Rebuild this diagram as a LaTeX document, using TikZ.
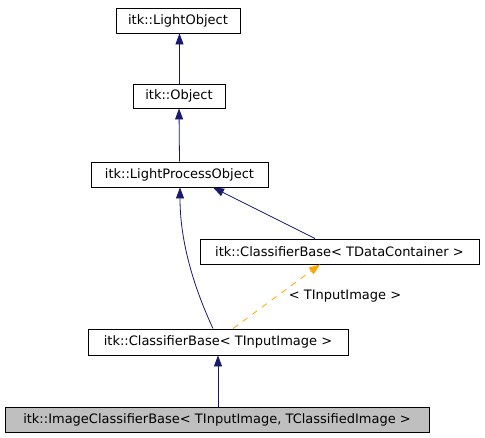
\documentclass[tikz,border=0pt]{standalone}
\usepackage{fontspec}
\setmainfont{DejaVu Sans}
\usetikzlibrary{arrows.meta}
\definecolor{edgeblue}{HTML}{191970}
\definecolor{edgeorange}{HTML}{FFA500}
\definecolor{boxgrey}{HTML}{BFBFBF}
\begin{document}
\begin{tikzpicture}[x=1pt,y=-1pt,
  cls/.style={draw=black,line width=0.9pt,inner sep=0pt,font=\fontsize{13}{15}\selectfont},
  inh/.style={draw=edgeblue,line width=0.8pt,-{Triangle[length=11pt,width=8pt]}},
  tmpl/.style={draw=edgeorange,line width=0.8pt,dash pattern=on 6pt off 6pt,-{Triangle[length=11pt,width=8pt]}}]
\useasboundingbox (0,0) rectangle (485,437);
\node[cls,minimum width=124pt,minimum height=25pt] (lo) at (178,20.5) {itk::LightObject};
\node[cls,minimum width=92pt,minimum height=24pt] (ob) at (179,96) {itk::Object};
\node[cls,minimum width=177pt,minimum height=25pt] (lpo) at (179.5,174.5) {itk::LightProcessObject};
\node[cls,minimum width=279pt,minimum height=25pt] (cbd) at (339.5,251.5) {itk::ClassifierBase< TDataContainer >};
\node[cls,minimum width=260pt,minimum height=26pt] (cbi) at (218,342) {itk::ClassifierBase< TInputImage >};
\node[cls,fill=boxgrey,minimum width=424pt,minimum height=25pt] (icb) at (217,419.5) {itk::ImageClassifierBase< TInputImage, TClassifiedImage >};
\draw[inh] ([xshift=0.5pt]ob.north) -- ([xshift=1.5pt]lo.south);
\draw[inh] (lpo.north) -- (ob.north |- ob.south);
\draw[inh] ([xshift=-5pt]cbi.north) .. controls (196,292) and (180,245) .. ([xshift=0.5pt]lpo.south);
\draw[inh] ([xshift=-24.5pt]cbd.north) -- ([xshift=33.5pt]lpo.south);
\draw[tmpl] ([xshift=15pt]cbi.north) -- ([xshift=-19.5pt]cbd.south);
\node[font=\fontsize{13}{15}\selectfont,inner sep=0pt] (lbl) at (345,296) {< TInputImage >};
\draw[inh] (icb.north -| cbi.south) -- (cbi.south);
\end{tikzpicture}
\end{document}
